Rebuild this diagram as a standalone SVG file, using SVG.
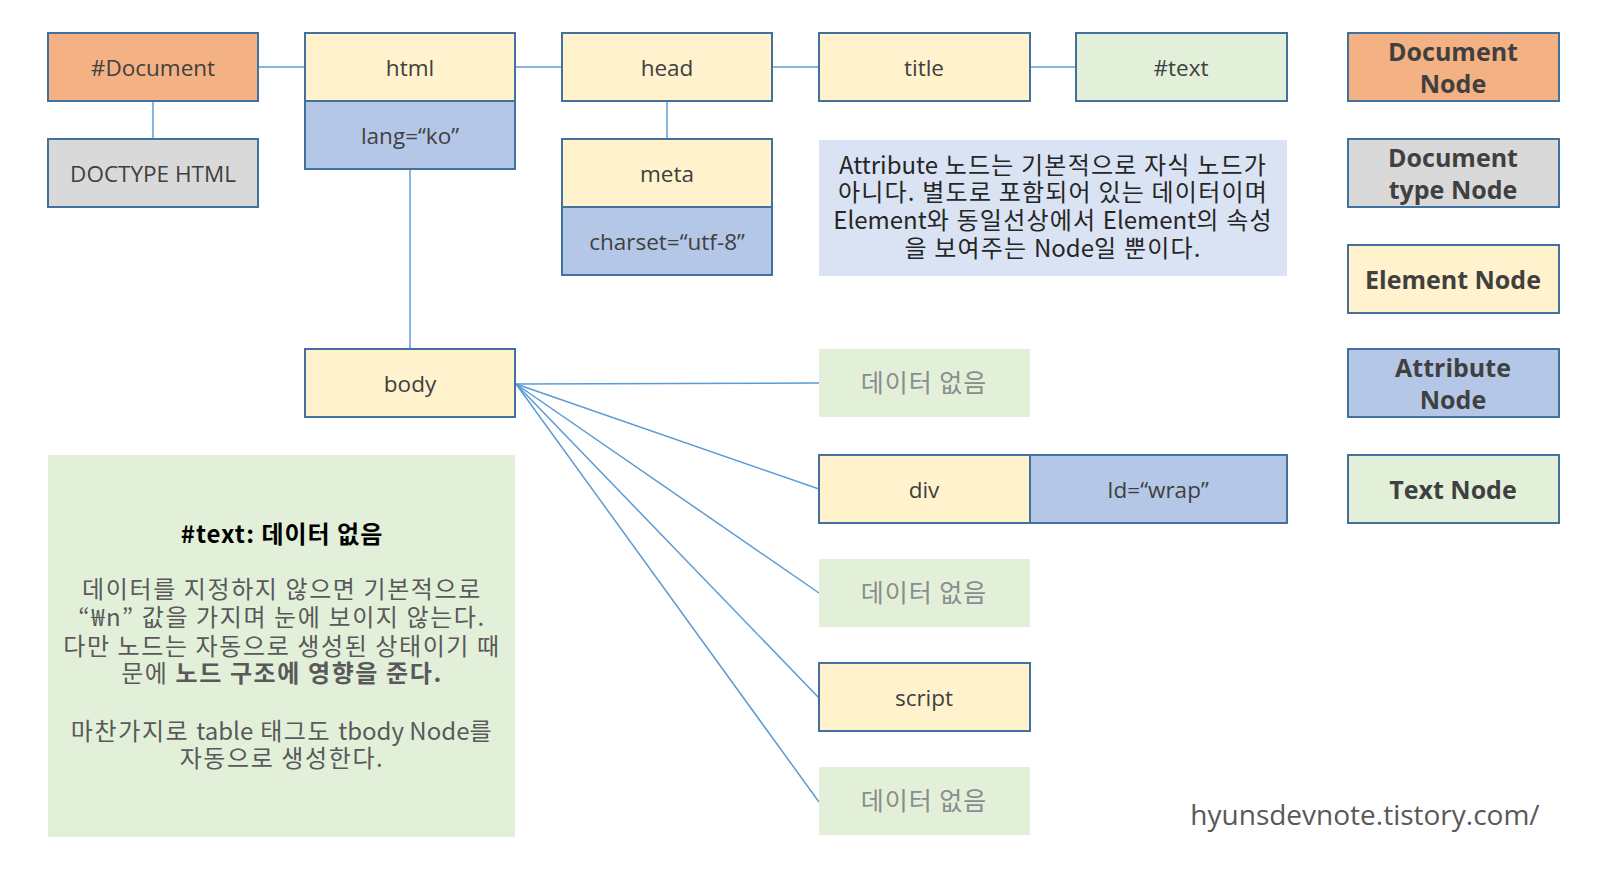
<svg xmlns="http://www.w3.org/2000/svg" width="1600" height="889" viewBox="0 0 1600 889">
<style>
.n{stroke:#41719c;stroke-width:2}
.doc{fill:#f4b183}.el{fill:#fff2cc}.at{fill:#b4c7e7}.tx{fill:#e2f0d9}.dt{fill:#d9d9d9}
.lb{font-family:"Open Sans","Noto Sans CJK KR",sans-serif;font-size:22.5px;fill:#404040;text-anchor:middle}
.nd{font-family:"Noto Sans CJK KR",sans-serif;font-size:25px;letter-spacing:1px;fill:#8c8c8c;text-anchor:middle}
.lg{font-family:"Open Sans","Noto Sans CJK KR",sans-serif;font-size:25px;font-weight:bold;fill:#404040;text-anchor:middle}
.note{font-family:"Noto Sans CJK KR",sans-serif;font-size:24px;letter-spacing:1.2px;fill:#262626;text-anchor:middle}
.gb{font-family:"Noto Sans CJK KR",sans-serif;font-size:24px;letter-spacing:1.6px;fill:#595959;text-anchor:middle}
.lat{letter-spacing:0}
.c{stroke:#5b9bd5;stroke-width:1.5;fill:none}
</style>
<rect width="1600" height="889" fill="#ffffff"/>
<g id="connectors">
<line class="c" x1="258" y1="67" x2="305" y2="67"/>
<line class="c" x1="515" y1="67" x2="562" y2="67"/>
<line class="c" x1="772" y1="67" x2="819" y2="67"/>
<line class="c" x1="1030" y1="67" x2="1076" y2="67"/>
<line class="c" x1="153" y1="101" x2="153" y2="139"/>
<line class="c" x1="667" y1="101" x2="667" y2="139"/>
<line class="c" x1="410" y1="169" x2="410" y2="349"/>
<line class="c" x1="516" y1="384" x2="819" y2="383"/>
<line class="c" x1="516" y1="384" x2="819" y2="489"/>
<line class="c" x1="516" y1="384" x2="819" y2="593"/>
<line class="c" x1="516" y1="384" x2="819" y2="698"/>
<line class="c" x1="516" y1="384" x2="819" y2="802"/>
</g>
<g id="document">
<rect class="n doc" x="48" y="33" width="210" height="68"/>
<text class="lb" x="153" y="76">#Document</text>
</g>
<g id="doctype">
<rect class="n dt" x="48" y="139" width="210" height="68"/>
<text class="lb" x="153" y="182">DOCTYPE HTML</text>
</g>
<g id="html">
<rect class="n el" x="305" y="33" width="210" height="68"/>
<text class="lb" x="410" y="76">html</text>
<rect class="n at" x="305" y="101" width="210" height="68"/>
<text class="lb" x="410" y="144">lang=“ko”</text>
</g>
<g id="head">
<rect class="n el" x="562" y="33" width="210" height="68"/>
<text class="lb" x="667" y="76">head</text>
</g>
<g id="meta">
<rect class="n el" x="562" y="139" width="210" height="68"/>
<text class="lb" x="667" y="182">meta</text>
<rect class="n at" x="562" y="207" width="210" height="68"/>
<text class="lb" x="667" y="250">charset=“utf-8”</text>
</g>
<g id="title">
<rect class="n el" x="819" y="33" width="211" height="68"/>
<text class="lb" x="924" y="76">title</text>
</g>
<g id="text">
<rect class="n tx" x="1076" y="33" width="211" height="68"/>
<text class="lb" x="1181" y="76">#text</text>
</g>
<g id="attr-note">
<rect x="819" y="140" width="468" height="136" fill="#dae3f3"/>
<text class="note" x="1053" y="174"><tspan class="lat">Attribute</tspan> 노드는 기본적으로 자식 노드가</text>
<text class="note" x="1053" y="201">아니다. 별도로 포함되어 있는 데이터이며</text>
<text class="note" x="1053" y="229"><tspan class="lat">Element</tspan>와 동일선상에서 <tspan class="lat">Element</tspan>의 속성</text>
<text class="note" x="1053" y="257">을 보여주는 <tspan class="lat">Node</tspan>일 뿐이다.</text>
</g>
<g id="body">
<rect class="n el" x="305" y="349" width="210" height="68"/>
<text class="lb" x="410" y="392">body</text>
</g>
<g id="empty1">
<rect class="tx" x="819" y="349" width="211" height="68"/>
<text class="nd" x="924" y="392">데이터 없음</text>
</g>
<g id="div">
<rect class="n el" x="819" y="455" width="211" height="68"/>
<text class="lb" x="924" y="498">div</text>
<rect class="n at" x="1030" y="455" width="257" height="68"/>
<text class="lb" x="1158" y="498">Id=“wrap”</text>
</g>
<g id="empty2">
<rect class="tx" x="819" y="559" width="211" height="68"/>
<text class="nd" x="924" y="602">데이터 없음</text>
</g>
<g id="script">
<rect class="n el" x="819" y="663" width="211" height="68"/>
<text class="lb" x="924" y="706">script</text>
</g>
<g id="empty3">
<rect class="tx" x="819" y="767" width="211" height="68"/>
<text class="nd" x="924" y="810">데이터 없음</text>
</g>
<g id="text-note">
<rect x="48" y="455" width="467" height="382" fill="#e2f0d9"/>
<text class="gb" x="282" y="543" style="fill:#000;font-weight:bold;letter-spacing:1px">#text: 데이터 없음</text>
<text class="gb" x="282" y="598">데이터를 지정하지 않으면 기본적으로</text>
<text class="gb" x="282" y="626">“₩n” 값을 가지며 눈에 보이지 않는다.</text>
<text class="gb" x="282" y="655">다만 노드는 자동으로 생성된 상태이기 때</text>
<text class="gb" x="282" y="682">문에 <tspan font-weight="bold">노드 구조에 영향을 준다.</tspan></text>
<text class="gb" x="282" y="740">마찬가지로 <tspan class="lat">table</tspan> 태그도 <tspan class="lat">tbody Node</tspan>를</text>
<text class="gb" x="282" y="767">자동으로 생성한다.</text>
</g>
<g id="legend-document">
<rect class="n doc" x="1348" y="33" width="211" height="68"/>
<text class="lg" x="1453" y="61">Document</text>
<text class="lg" x="1453" y="93">Node</text>
</g>
<g id="legend-doctype">
<rect class="n dt" x="1348" y="139" width="211" height="68"/>
<text class="lg" x="1453" y="167">Document</text>
<text class="lg" x="1453" y="199">type Node</text>
</g>
<g id="legend-element">
<rect class="n el" x="1348" y="245" width="211" height="68"/>
<text class="lg" x="1453" y="289">Element Node</text>
</g>
<g id="legend-attribute">
<rect class="n at" x="1348" y="349" width="211" height="68"/>
<text class="lg" x="1453" y="377">Attribute</text>
<text class="lg" x="1453" y="409">Node</text>
</g>
<g id="legend-text">
<rect class="n tx" x="1348" y="455" width="211" height="68"/>
<text class="lg" x="1453" y="499">Text Node</text>
</g>
<text x="1365" y="825" font-family="'Open Sans','Noto Sans CJK KR',sans-serif" font-size="28" fill="#595959" text-anchor="middle">hyunsdevnote.tistory.com/</text>
</svg>
